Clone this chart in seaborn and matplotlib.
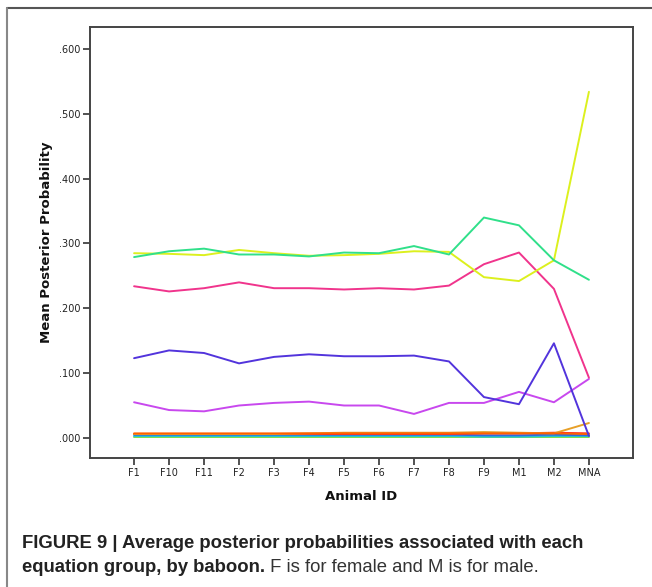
import matplotlib
matplotlib.use("Agg")
import matplotlib.pyplot as plt
from matplotlib.lines import Line2D
import numpy as np
import pandas as pd
import seaborn as sns

# animal IDs along the x axis
animals = ['F1', 'F10', 'F11', 'F2', 'F3', 'F4', 'F5', 'F6', 'F7', 'F8', 'F9', 'M1', 'M2', 'MNA']

# mean posterior probability per equation group
grp_yellow = [0.285, 0.284, 0.282, 0.290, 0.285, 0.281, 0.282, 0.284, 0.288, 0.287, 0.248, 0.242, 0.274, 0.534]
grp_green = [0.279, 0.288, 0.292, 0.283, 0.283, 0.280, 0.286, 0.285, 0.296, 0.283, 0.340, 0.328, 0.274, 0.244]
grp_pink = [0.234, 0.226, 0.231, 0.240, 0.231, 0.231, 0.229, 0.231, 0.229, 0.235, 0.268, 0.286, 0.230, 0.093]
grp_indigo = [0.123, 0.135, 0.131, 0.115, 0.125, 0.129, 0.126, 0.126, 0.127, 0.118, 0.063, 0.052, 0.146, 0.003]
grp_violet = [0.055, 0.043, 0.041, 0.050, 0.054, 0.056, 0.050, 0.050, 0.037, 0.054, 0.054, 0.071, 0.055, 0.091]
grp_gold = [0.006, 0.006, 0.006, 0.006, 0.006, 0.007, 0.008, 0.008, 0.008, 0.008, 0.009, 0.008, 0.007, 0.023]
grp_orange = [0.007, 0.007, 0.007, 0.007, 0.007, 0.007, 0.007, 0.007, 0.007, 0.007, 0.007, 0.007, 0.007, 0.006]
grp_red = [0.006, 0.006, 0.006, 0.006, 0.006, 0.006, 0.006, 0.006, 0.006, 0.006, 0.007, 0.007, 0.008, 0.007]
grp_blue = [0.005, 0.005, 0.005, 0.005, 0.005, 0.005, 0.005, 0.005, 0.005, 0.005, 0.004, 0.004, 0.005, 0.004]
grp_cyan = [0.003, 0.003, 0.003, 0.003, 0.003, 0.003, 0.003, 0.003, 0.003, 0.003, 0.002, 0.002, 0.003, 0.003]
grp_lime = [0.001, 0.001, 0.001, 0.001, 0.001, 0.001, 0.001, 0.001, 0.001, 0.001, 0.001, 0.001, 0.001, 0.001]

groups = {
    'g1': grp_lime, 'g2': grp_cyan, 'g3': grp_blue, 'g4': grp_red, 'g5': grp_gold,
    'g6': grp_orange, 'g7': grp_violet, 'g8': grp_indigo, 'g9': grp_pink,
    'g10': grp_yellow, 'g11': grp_green,
}
colors = {
    'g1': '#7ce04a', 'g2': '#22c4d6', 'g3': '#2f6be0', 'g4': '#ff2a2a', 'g5': '#e8a028',
    'g6': '#ff6000', 'g7': '#c848ee', 'g8': '#5234dc', 'g9': '#f0348c',
    'g10': '#dcf01e', 'g11': '#30e08a',
}

rows = []
for g, vals in groups.items():
    for a, v in zip(animals, vals):
        rows.append({'animal': a, 'prob': v, 'group': g})
df = pd.DataFrame(rows)

sns.set_style("white")
fig = plt.figure(figsize=(6.52, 5.87), dpi=100)
ax = fig.add_axes([90 / 652, 1 - 458 / 587, 543 / 652, 431 / 587])

sns.lineplot(data=df, x='animal', y='prob', hue='group', palette=colors,
             sort=False, linewidth=1.4, legend=False, ax=ax)

ax.set_xlim(-1.26, 14.26)
ax.set_ylim(-0.031, 0.634)
ax.set_yticks([0, 0.1, 0.2, 0.3, 0.4, 0.5, 0.6])
ax.set_yticklabels(['.000', '.100', '.200', '.300', '.400', '.500', '.600'])
ax.tick_params(axis='both', direction='out', length=5, width=1.2, color='#333333',
               labelsize=7, labelcolor='#222222', left=True, bottom=True, pad=2)
for s in ax.spines.values():
    s.set_color('#444444')
    s.set_linewidth(1.4)

ax.set_xlabel('Animal ID', fontsize=9.5, fontweight='bold', color='#111111', labelpad=9)
ax.set_ylabel('Mean Posterior Probability', fontsize=9.5, fontweight='bold', color='#111111', labelpad=4)

# outer frame of the figure panel
fig.add_artist(Line2D([7 / 652, 1], [1 - 8 / 587, 1 - 8 / 587], color='#555555', lw=1.5))
fig.add_artist(Line2D([7 / 652, 7 / 652], [0, 1 - 8 / 587], color='#888888', lw=1.5))

cap_font = ['Liberation Sans', 'DejaVu Sans']
fig.text(22 / 652, 1 - 543 / 587,
         'FIGURE 9 | Average posterior probabilities associated with each',
         fontsize=13.3, fontweight='bold', family=cap_font, color='#222222', va='center')
t2 = fig.text(22 / 652, 1 - 568 / 587, 'equation group, by baboon.',
              fontsize=13.3, fontweight='bold', family=cap_font, color='#222222', va='center')
ax.annotate(' F is for female and M is for male.', xy=(1, 0), xycoords=t2,
            va='bottom', ha='left', fontsize=13.3, family=cap_font, color='#333333',
            annotation_clip=False)

fig.savefig('out.png', dpi=100)
